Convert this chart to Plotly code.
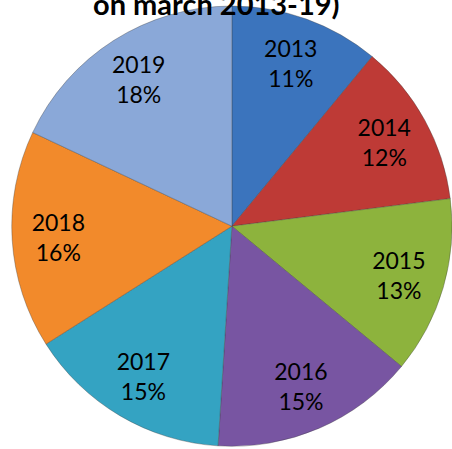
import plotly.graph_objects as go

years = ["2013", "2014", "2015", "2016", "2017", "2018", "2019"]
shares = [11, 12, 13, 15, 15, 16, 18]
slice_colors = ["#3B74BD", "#BE3A36", "#8DB33D", "#7855A2", "#34A3C2", "#F28A2B", "#8AA8D8"]
title_text = "on march 2013-19)"

pie_domain = dict(x=[0.026, 1], y=[0.0045, 0.988])

fig = go.Figure()

# coloured slices
fig.add_trace(go.Pie(
    labels=years,
    values=shares,
    sort=False,
    direction="clockwise",
    rotation=0,
    marker=dict(colors=slice_colors, line=dict(color="rgba(60,60,60,0.35)", width=1)),
    textinfo="none",
    domain=pie_domain,
    showlegend=False,
    hoverinfo="label+percent",
))

# same data as a transparent ring, so the labels sit out towards the rim
fig.add_trace(go.Pie(
    labels=years,
    values=shares,
    sort=False,
    direction="clockwise",
    rotation=0,
    hole=0.58,
    marker=dict(colors=["rgba(0,0,0,0)"] * len(years), line=dict(width=0)),
    texttemplate="%{label}<br>%{percent:.0%}",
    textposition="inside",
    insidetextorientation="horizontal",
    textfont=dict(family="Lato", size=23, color="black"),
    domain=pie_domain,
    showlegend=False,
    hoverinfo="skip",
))

fig.add_annotation(
    text="<b>" + title_text + "</b>",
    x=0.48, y=0.948, xref="paper", yref="paper",
    xanchor="center", yanchor="bottom",
    showarrow=False,
    font=dict(family="Lato", size=29, color="black"),
)

fig.update_layout(
    width=452, height=449,
    margin=dict(l=0, r=0, t=0, b=0),
    paper_bgcolor="white",
    plot_bgcolor="white",
)

fig.write_html("out.html", config={"displayModeBar": False},
               post_script="document.body.style.margin='0px';")
